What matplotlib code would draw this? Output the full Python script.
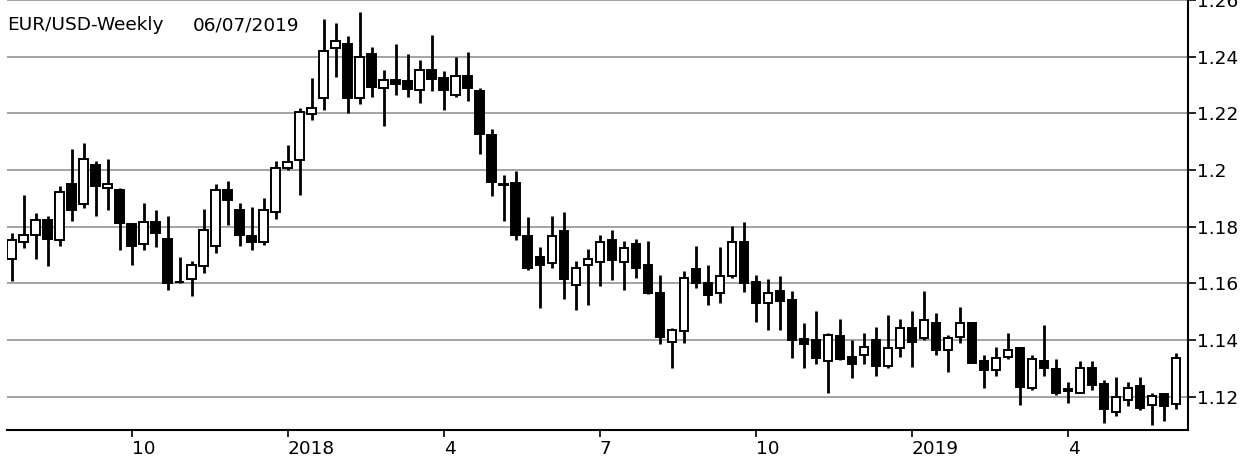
import numpy as np
import matplotlib
matplotlib.use("Agg")
import matplotlib.pyplot as plt

# weekly EUR/USD (oldest first)
opens = [1.1684, 1.1745, 1.1771, 1.1824, 1.1753, 1.1952, 1.1881, 1.2017, 1.1937, 1.1931,
         1.1810, 1.1738, 1.1818, 1.1756, 1.1606, 1.1614, 1.1660, 1.1730, 1.1931, 1.1860,
         1.1767, 1.1744, 1.1851, 1.2006, 1.2036, 1.2197, 1.2253, 1.2429, 1.2443, 1.2253,
         1.2408, 1.2290, 1.2319, 1.2313, 1.2282, 1.2354, 1.2325, 1.2265, 1.2333, 1.2278,
         1.2123, 1.1951, 1.1955, 1.1767, 1.1692, 1.1670, 1.1783, 1.1594, 1.1663, 1.1676,
         1.1753, 1.1676, 1.1740, 1.1663, 1.1567, 1.1392, 1.1433, 1.1649, 1.1600, 1.1564,
         1.1626, 1.1745, 1.1606, 1.1529, 1.1574, 1.1540, 1.1402, 1.1400, 1.1324, 1.1415,
         1.1338, 1.1346, 1.1400, 1.1308, 1.1373, 1.1442, 1.1406, 1.1460, 1.1365, 1.1410,
         1.1460, 1.1324, 1.1294, 1.1341, 1.1373, 1.1229, 1.1324, 1.1296, 1.1226, 1.1214,
         1.1300, 1.1245, 1.1147, 1.1188, 1.1238, 1.1171, 1.1209, 1.1173]
highs = [1.1777, 1.1910, 1.1848, 1.1838, 1.1945, 1.2073, 1.2095, 1.2030, 1.2038, 1.1937,
         1.1812, 1.1883, 1.1860, 1.1838, 1.1692, 1.1678, 1.1862, 1.1949, 1.1961, 1.1883,
         1.1869, 1.1901, 1.2030, 1.2088, 1.2220, 1.2325, 1.2533, 1.2518, 1.2472, 1.2556,
         1.2435, 1.2354, 1.2446, 1.2409, 1.2388, 1.2475, 1.2348, 1.2398, 1.2417, 1.2290,
         1.2144, 1.1982, 1.1996, 1.1833, 1.1727, 1.1838, 1.1852, 1.1678, 1.1721, 1.1769,
         1.1788, 1.1748, 1.1756, 1.1748, 1.1628, 1.1442, 1.1643, 1.1733, 1.1664, 1.1728,
         1.1802, 1.1818, 1.1628, 1.1614, 1.1624, 1.1574, 1.1460, 1.1501, 1.1424, 1.1474,
         1.1400, 1.1424, 1.1444, 1.1489, 1.1474, 1.1501, 1.1573, 1.1496, 1.1418, 1.1517,
         1.1462, 1.1347, 1.1374, 1.1424, 1.1375, 1.1347, 1.1454, 1.1332, 1.1253, 1.1324,
         1.1324, 1.1259, 1.1268, 1.1253, 1.1268, 1.1214, 1.1214, 1.1353]
lows = [1.1608, 1.1724, 1.1686, 1.1660, 1.1730, 1.1821, 1.1865, 1.1836, 1.1857, 1.1716,
        1.1666, 1.1716, 1.1728, 1.1576, 1.1600, 1.1555, 1.1637, 1.1707, 1.1806, 1.1730,
        1.1716, 1.1736, 1.1826, 1.2000, 1.1913, 1.2178, 1.2213, 1.2328, 1.2200, 1.2232,
        1.2259, 1.2154, 1.2263, 1.2259, 1.2238, 1.2278, 1.2212, 1.2259, 1.2243, 1.2056,
        1.1907, 1.1821, 1.1751, 1.1647, 1.1513, 1.1655, 1.1543, 1.1507, 1.1525, 1.1590,
        1.1612, 1.1576, 1.1620, 1.1561, 1.1385, 1.1300, 1.1390, 1.1585, 1.1525, 1.1529,
        1.1620, 1.1569, 1.1462, 1.1436, 1.1436, 1.1335, 1.1300, 1.1315, 1.1214, 1.1329,
        1.1265, 1.1315, 1.1271, 1.1300, 1.1341, 1.1306, 1.1400, 1.1347, 1.1285, 1.1390,
        1.1318, 1.1229, 1.1271, 1.1332, 1.1171, 1.1224, 1.1271, 1.1206, 1.1179, 1.1212,
        1.1224, 1.1108, 1.1132, 1.1167, 1.1151, 1.1100, 1.1115, 1.1155]
closes = [1.1753, 1.1771, 1.1824, 1.1757, 1.1923, 1.1857, 1.2038, 1.1943, 1.1952, 1.1814,
          1.1730, 1.1818, 1.1779, 1.1602, 1.1603, 1.1663, 1.1788, 1.1931, 1.1893, 1.1771,
          1.1744, 1.1860, 1.2008, 1.2028, 1.2203, 1.2219, 1.2421, 1.2455, 1.2253, 1.2400,
          1.2294, 1.2319, 1.2302, 1.2287, 1.2354, 1.2321, 1.2282, 1.2333, 1.2288, 1.2127,
          1.1957, 1.1946, 1.1771, 1.1655, 1.1663, 1.1767, 1.1614, 1.1655, 1.1684, 1.1745,
          1.1681, 1.1724, 1.1655, 1.1567, 1.1412, 1.1436, 1.1620, 1.1602, 1.1557, 1.1626,
          1.1745, 1.1602, 1.1529, 1.1564, 1.1536, 1.1400, 1.1386, 1.1335, 1.1418, 1.1333,
          1.1315, 1.1376, 1.1308, 1.1371, 1.1442, 1.1392, 1.1472, 1.1365, 1.1406, 1.1458,
          1.1320, 1.1294, 1.1335, 1.1365, 1.1235, 1.1332, 1.1300, 1.1214, 1.1221, 1.1300,
          1.1241, 1.1155, 1.1200, 1.1229, 1.1159, 1.1202, 1.1167, 1.1335]

# month marks (candle index -> label)
tick_pos = [10, 23, 36, 49, 62, 75, 88]
tick_lab = ['10', '2018', '4', '7', '10', '2019', '4']
price_ticks = [1.12, 1.14, 1.16, 1.18, 1.20, 1.22, 1.24, 1.26]
price_labs = ['1.12', '1.14', '1.16', '1.18', '1.2', '1.22', '1.24', '1.26']

plt.rcParams['font.family'] = ['DejaVu Sans']
fs = 13.3

o = np.asarray(opens)
h = np.asarray(highs)
l = np.asarray(lows)
c = np.asarray(closes)
x = np.arange(len(o))
up = c >= o

fig = plt.figure(figsize=(12.55, 4.62), dpi=100)
ax = fig.add_axes([7/1255, 1 - 430/462, (1188 - 7)/1255, 430/462])

# grid first
for p in price_ticks:
    ax.axhline(p, color='#8a8a8a', lw=1.1, zorder=0)

ax.vlines(x, l, h, color='black', lw=2.0, zorder=1)
bottom = np.minimum(o, c)
height = np.abs(c - o)
ax.bar(x[up], height[up], bottom=bottom[up], width=0.72, color='white',
       edgecolor='black', linewidth=1.4, zorder=2)
ax.bar(x[~up], height[~up], bottom=bottom[~up], width=0.72, color='black',
       edgecolor='black', linewidth=1.4, zorder=2)

ax.set_xlim(-0.39, 98.0)
ax.set_ylim(1.1082, 1.2600)

for s in ['left', 'top']:
    ax.spines[s].set_visible(False)
for s in ['bottom', 'right']:
    ax.spines[s].set_linewidth(1.5)

ax.yaxis.tick_right()
ax.set_yticks(price_ticks)
ax.set_yticklabels(price_labs, fontsize=fs)
ax.tick_params(axis='y', direction='out', length=6, width=1.2, pad=0.5)

ax.set_xticks(tick_pos)
ax.set_xticklabels(tick_lab, fontsize=fs, ha='left')
ax.tick_params(axis='x', direction='out', length=5, width=1.2, pad=2)

fig.text(7/1255, 1 - 30.5/462, 'EUR/USD-Weekly', fontsize=fs, va='baseline', ha='left')
fig.text(192.5/1255, 1 - 30.5/462, '06/07/2019', fontsize=fs, va='baseline', ha='left')

fig.savefig('out.png', dpi=100)
